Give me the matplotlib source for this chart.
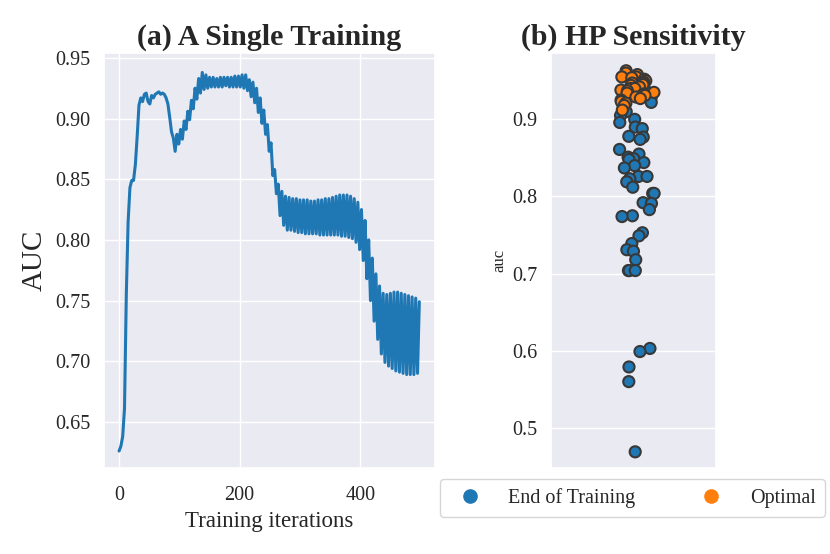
import numpy as np
import pandas as pd
import matplotlib
matplotlib.use('Agg')
import matplotlib.pyplot as plt
import seaborn as sns
from matplotlib.lines import Line2D

# Кривая AUC одного обучения (значения каждые 3 итерации)
iterations = list(range(0, 499, 3))
auc_curve = [
    0.626, 0.630, 0.638, 0.661, 0.755, 0.815, 0.843, 0.849, 0.849, 0.862,
    0.885, 0.911, 0.917, 0.914, 0.920, 0.921, 0.914, 0.912, 0.919, 0.917,
    0.920, 0.921, 0.922, 0.920, 0.921, 0.920, 0.917, 0.912, 0.901, 0.889,
    0.884, 0.873, 0.887, 0.879, 0.891, 0.883, 0.898, 0.891, 0.906, 0.899,
    0.915, 0.908, 0.925, 0.916, 0.933, 0.921, 0.938, 0.924, 0.936, 0.925,
    0.934, 0.926, 0.934, 0.926, 0.933, 0.926, 0.934, 0.926, 0.934, 0.927,
    0.934, 0.926, 0.934, 0.926, 0.935, 0.926, 0.935, 0.926, 0.936, 0.925,
    0.936, 0.923, 0.932, 0.918, 0.930, 0.913, 0.925, 0.905, 0.917, 0.896,
    0.907, 0.887, 0.895, 0.873, 0.880, 0.853, 0.858, 0.838, 0.846, 0.820,
    0.840, 0.812, 0.836, 0.808, 0.835, 0.808, 0.834, 0.807, 0.834, 0.806,
    0.833, 0.806, 0.833, 0.805, 0.833, 0.805, 0.832, 0.805, 0.832, 0.805,
    0.833, 0.804, 0.833, 0.804, 0.834, 0.804, 0.834, 0.804, 0.835, 0.804,
    0.836, 0.804, 0.837, 0.803, 0.837, 0.803, 0.837, 0.802, 0.836, 0.801,
    0.834, 0.798, 0.831, 0.792, 0.825, 0.783, 0.816, 0.768, 0.800, 0.750,
    0.785, 0.733, 0.772, 0.718, 0.762, 0.706, 0.756, 0.699, 0.755, 0.696,
    0.756, 0.694, 0.757, 0.692, 0.757, 0.691, 0.756, 0.690, 0.755, 0.689,
    0.754, 0.689, 0.753, 0.689, 0.752, 0.690, 0.749,
]

# Чувствительность к гиперпараметрам
auc_end = [
    0.945, 0.940, 0.938, 0.932, 0.928, 0.922, 0.918, 0.910, 0.905, 0.900,
    0.896, 0.890, 0.888, 0.878, 0.877, 0.874, 0.861, 0.855, 0.851, 0.849,
    0.848, 0.844, 0.840, 0.837, 0.826, 0.826, 0.823, 0.819, 0.812, 0.804,
    0.804, 0.792, 0.791, 0.783, 0.775, 0.774, 0.753, 0.749, 0.739, 0.731,
    0.729, 0.718, 0.704, 0.704, 0.704, 0.603, 0.599, 0.579, 0.560, 0.469,
]
auc_opt = [
    0.963, 0.960, 0.958, 0.955, 0.955, 0.954, 0.952, 0.950, 0.948, 0.947,
    0.947, 0.945, 0.944, 0.942, 0.940, 0.940, 0.938, 0.937, 0.935, 0.934,
    0.933, 0.931, 0.931, 0.929, 0.927, 0.925, 0.923, 0.921, 0.918, 0.912,
]
hue_labels = ['End of Training', 'Optimal']
colors = ['#1f77b4', '#ff7f0e']

sns.set_theme(style='darkgrid')
plt.rcParams['font.family'] = ['Liberation Serif', 'DejaVu Serif']

fig = plt.figure(figsize=(8.3, 5.54), dpi=100)
ax1 = fig.add_axes([0.1253, 0.1552, 0.3988, 0.7491])
ax2 = fig.add_axes([0.6639, 0.1552, 0.1988, 0.7491])

# (a) одно обучение
ax1.plot(iterations, auc_curve, color=colors[0], lw=2.2)
ax1.set_xlim(-25, 524)
ax1.set_ylim(0.612, 0.954)
ax1.set_xticks([0, 200, 400])
ax1.set_yticks([0.65, 0.70, 0.75, 0.80, 0.85, 0.90, 0.95])
ax1.tick_params(labelsize=14.5)
ax1.tick_params(axis='x', pad=7)
ax1.set_xlabel('Training iterations', fontsize=16.5, labelpad=4)
ax1.set_ylabel('AUC', fontsize=21, labelpad=6)
ax1.set_title('(a) A Single Training', fontsize=21.5, fontweight='bold')

# (b) чувствительность
df = pd.DataFrame({
    'grp': ['all'] * (len(auc_end) + len(auc_opt)),
    'auc': auc_end + auc_opt,
    'kind': [hue_labels[0]] * len(auc_end) + [hue_labels[1]] * len(auc_opt),
})
np.random.seed(3)
sns.stripplot(data=df, x='grp', y='auc', hue='kind', hue_order=hue_labels,
              palette=colors, size=8, linewidth=1.5, edgecolor='0.22',
              jitter=0.11, ax=ax2, legend=False)
ax2.set_xlim(-0.52, 0.48)
ax2.set_ylim(0.448, 0.986)
ax2.set_xticks([])
ax2.set_xlabel('')
ax2.set_yticks([0.5, 0.6, 0.7, 0.8, 0.9])
ax2.tick_params(labelsize=14.5)
ax2.set_ylabel('auc', fontsize=12)
ax2.set_title('(b) HP Sensitivity', fontsize=21.5, fontweight='bold')

handles = [Line2D([], [], marker='o', ls='', color=c, markersize=9.5) for c in colors]
fig.legend(handles, hue_labels, ncol=2, fontsize=14.5, loc='center',
           bbox_to_anchor=(0.762, 0.101), columnspacing=2.8, handletextpad=0.9,
           borderpad=0.45, frameon=True, facecolor='white', edgecolor='0.8')

fig.savefig('out.png', dpi=100)
